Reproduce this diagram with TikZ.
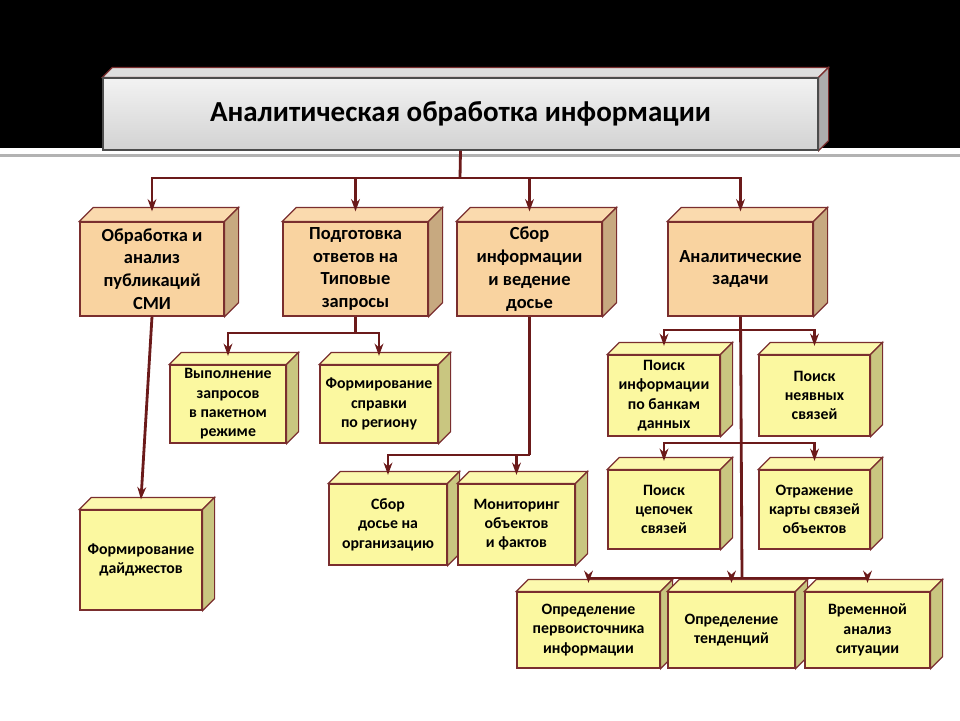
\documentclass[tikz,border=0pt]{standalone}
\usepackage{fontspec}
\setmainfont{Carlito}
\usepackage{tikz}
\usetikzlibrary{arrows.meta}

\definecolor{edgeline}{HTML}{7A2E2E}
\definecolor{wire}{HTML}{6B1A1A}
\definecolor{orangebox}{HTML}{F9D3A0}
\definecolor{yellowbox}{HTML}{FBF8A0}
\definecolor{greybox}{HTML}{D8D8D8}

\begin{document}
\begin{tikzpicture}[
    x=0.02cm, y=-0.02cm,
    cube/.style 2 args={rectangle, draw=edgeline, fill=#1, line width=0.7pt, align=center,
        font=\bfseries\fontsize{10.5}{13}\selectfont, inner sep=2pt,
        append after command={\pgfextra{
            \draw[edgeline, line width=0.7pt, fill=#1!85!white] (\tikzlastnode.north west) -- ++(#2,-#2)
                -- ([shift={(#2,-#2)}]\tikzlastnode.north east) -- (\tikzlastnode.north east) -- cycle;
            \draw[edgeline, line width=0.7pt, fill=#1!80!black] (\tikzlastnode.north east) -- ++(#2,-#2)
                -- ([shift={(#2,-#2)}]\tikzlastnode.south east) -- (\tikzlastnode.south east) -- cycle;
        }}},
    big/.style={cube={orangebox}{14}},
    small/.style={cube={yellowbox}{12}, font=\bfseries\fontsize{9}{11}\selectfont},
    sz/.style 2 args={minimum width=#1*0.02cm, minimum height=#2*0.02cm},
    arrow/.style={-{Stealth[length=7pt,width=5pt]}, wire, line width=1.6pt},
    wireline/.style={wire, line width=1.6pt}
]
    \useasboundingbox (0,0) rectangle (960,720);
    \fill[black] (0,0) rectangle (960,148);
    \fill[gray!60] (0,154) rectangle (960,157);

    % title
    \node[cube={greybox}{10}, sz={715}{72}, top color=gray!10, bottom color=gray!35,
          draw=gray!60!black, font=\bfseries\fontsize{16.5}{20}\selectfont] (title) at (460.5,114)
        {Аналитическая обработка информации};

    % first level
    \node[big, sz={144}{94}] (media) at (152,269) {Обработка и\\анализ\\публикаций\\СМИ};
    \node[big, sz={145}{94}] (answers) at (355.5,269) {Подготовка\\ответов на\\Типовые\\запросы};
    \node[big, sz={145}{94}] (dossier) at (529.5,269) {Сбор\\информации\\и ведение\\досье};
    \node[big, sz={145}{94}] (tasks) at (740.5,269) {Аналитические\\задачи};

    % second level
    \node[small, sz={116}{78}] (batch) at (228,404) {Выполнение\\запросов\\в пакетном\\режиме};
    \node[small, sz={118}{78}] (region) at (379,404) {Формирование\\справки\\по региону};
    \node[small, sz={122}{100}] (digest) at (141,560) {Формирование\\дайджестов};
    \node[small, sz={118}{81}] (orgfile) at (388,524.5) {Сбор\\досье на\\организацию};
    \node[small, sz={117}{81}] (monitor) at (516.5,524.5) {Мониторинг\\объектов\\и фактов};
    \node[small, sz={112}{81}] (banks) at (664,395.5) {Поиск\\информации\\по банкам\\данных};
    \node[small, sz={111}{81}] (hidden) at (814.5,395.5) {Поиск\\неявных\\связей};
    \node[small, sz={112}{79}] (chains) at (664,509.5) {Поиск\\цепочек\\связей};
    \node[small, sz={111}{79}] (linkmap) at (814.5,509.5) {Отражение\\карты связей\\объектов};
    \node[small, sz={143}{76}] (source) at (588.5,630) {Определение\\первоисточника\\информации};
    \node[small, sz={127}{76}] (trends) at (731.5,630) {Определение\\тенденций};
    \node[small, sz={125}{76}] (timeline) at (867.5,630) {Временной\\анализ\\ситуации};

    % connectors
    \coordinate (top bus) at (460,178);
    \draw[wireline] (title.south) -- (top bus);
    \foreach \n in {media, answers, dossier, tasks}
        \draw[arrow] (top bus) -| ([yshift=0.2cm]\n.north);

    \coordinate (ans bus) at (355.5,333);
    \draw[wireline] (answers.south) -- (ans bus);
    \foreach \n in {batch, region}
        \draw[arrow] (ans bus) -| ([yshift=0.17cm]\n.north);

    \draw[arrow] (media.south) -- ([yshift=0.2cm]digest.north);

    \coordinate (dos bus) at (529.5,455);
    \draw[wireline] (dossier.south) -- (dos bus);
    \draw[arrow] (dos bus) -| ([yshift=0.17cm]orgfile.north);
    \draw[arrow] (dos bus) -| ([yshift=0.17cm]monitor.north);

    \coordinate (task a) at (742,330);
    \coordinate (task b) at (742,443);
    \coordinate (task c) at (742,578);
    \draw[wireline] (tasks.south) -- (task c);
    \foreach \n in {banks, hidden}
        \draw[arrow] (task a) -| ([yshift=0.17cm]\n.north);
    \foreach \n in {chains, linkmap}
        \draw[arrow] (task b) -| ([yshift=0.17cm]\n.north);
    \foreach \n in {source, trends, timeline}
        \draw[arrow] (task c) -| ([yshift=0.17cm]\n.north);
\end{tikzpicture}
\end{document}
